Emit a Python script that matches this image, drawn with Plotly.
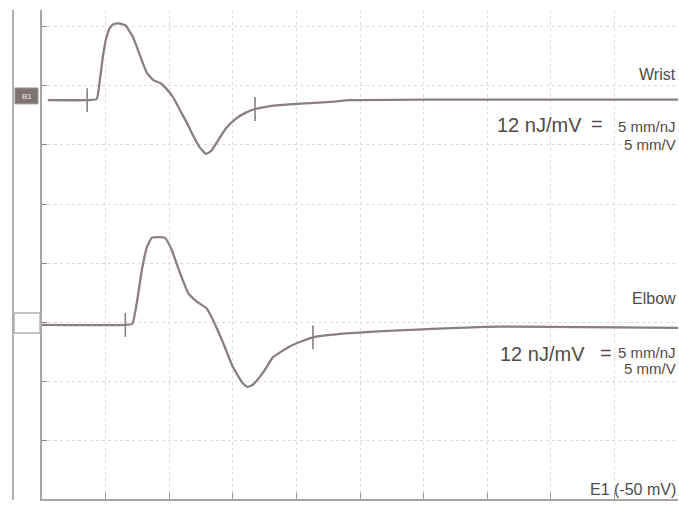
import plotly.graph_objects as go

# Time in ms (1 ms per division), amplitude in mV (1 mV per division)
wrist_t = [0.09, 0.71, 0.86, 0.91, 0.96, 1.01, 1.07, 1.13, 1.20, 1.31, 1.43, 1.54, 1.65, 1.75,
           1.86, 1.95, 2.06, 2.17, 2.28, 2.39, 2.48, 2.58, 2.66, 2.77, 2.89, 3.04, 3.19,
           3.35, 3.59, 4.06, 4.53, 4.84, 6.00, 8.00, 10.0]
wrist_a = [0.00, 0.00, 0.02, 0.34, 0.76, 1.05, 1.23, 1.29, 1.30, 1.27, 1.07, 0.76, 0.46, 0.34,
           0.29, 0.20, 0.05, -0.17, -0.39, -0.63, -0.80, -0.91, -0.86, -0.68, -0.48, -0.32,
           -0.22, -0.15, -0.10, -0.06, -0.03, 0.00, 0.01, 0.01, 0.01]

elbow_t = [0.00, 1.31, 1.42, 1.49, 1.57, 1.65, 1.73, 1.93, 2.04, 2.17, 2.30, 2.44, 2.59,
           2.69, 2.85, 3.00, 3.15, 3.23, 3.32, 3.48, 3.63, 3.90, 4.26, 4.84, 5.90, 7.20, 10.0]
elbow_a = [0.00, 0.00, 0.02, 0.37, 0.93, 1.32, 1.48, 1.48, 1.27, 0.88, 0.54, 0.39, 0.28,
           0.08, -0.31, -0.71, -0.98, -1.05, -1.01, -0.80, -0.55, -0.36, -0.21, -0.14,
           -0.08, -0.03, -0.05]

wrist_marker_t = [0.71, 3.35]
wrist_marker_a = [0.00, -0.15]
elbow_marker_t = [1.31, 4.26]
elbow_marker_a = [0.00, -0.21]

trace_names = ["Wrist", "Elbow"]
gain_label = "12 nJ/mV"
scale_top = "5 mm/nJ"
scale_bottom = "5 mm/V"
footer_label = "E1 (-50 mV)"
channel_label = "B1"

WRIST_BASE = 6.76
ELBOW_BASE = 2.95

TRACE_COLOR = "#8a7f7f"
TEXT_COLOR = "#524a4a"
FONT = "Liberation Sans, Arial, sans-serif"

fig = go.Figure()
for t, a, base in [(wrist_t, wrist_a, WRIST_BASE), (elbow_t, elbow_a, ELBOW_BASE)]:
    fig.add_trace(go.Scatter(x=t, y=[v + base for v in a], mode="lines",
                             line=dict(color=TRACE_COLOR, width=2.3, shape="spline", smoothing=0.4),
                             hoverinfo="skip", showlegend=False))
for t, a, base in [(wrist_marker_t, wrist_marker_a, WRIST_BASE), (elbow_marker_t, elbow_marker_a, ELBOW_BASE)]:
    fig.add_trace(go.Scatter(x=t, y=[v + base for v in a], mode="markers",
                             marker=dict(symbol="line-ns", size=17, line=dict(color=TRACE_COLOR, width=1.6)),
                             hoverinfo="skip", showlegend=False))

ann = []
def txt(x, y, s, size, anchor="right", xref="x", yref="y", color=TEXT_COLOR):
    ann.append(dict(x=x, y=y, xref=xref, yref=yref, text=s, showarrow=False,
                    xanchor=anchor, yanchor="middle", font=dict(size=size, color=color, family=FONT)))

txt(10.0, 7.20, trace_names[0], 16)
txt(7.12, 6.34, gain_label, 20, "left")
txt(8.73, 6.35, "=", 20, "center")
txt(10.0, 6.31, scale_top, 15)
txt(10.0, 6.01, scale_bottom, 15)

txt(10.0, 3.39, trace_names[1], 16)
txt(7.17, 2.46, gain_label, 20, "left")
txt(8.87, 2.47, "=", 20, "center")
txt(10.0, 2.49, scale_top, 15)
txt(10.0, 2.21, scale_bottom, 15)

txt(10.0, 0.16, footer_label, 16)
txt(-0.024, 0.824, channel_label, 8, "center", "paper", "paper", "#eeeaea")

shapes = [
    dict(type="line", xref="paper", yref="paper", x0=-0.0456, x1=-0.0456, y0=1.0, y1=-0.002,
         line=dict(color="#b5b0b0", width=2)),
    dict(type="rect", xref="paper", yref="paper", x0=-0.0425, x1=-0.0063, y0=0.808, y1=0.8405,
         fillcolor="#7d7373", line=dict(color="#9a9090", width=1)),
    dict(type="rect", xref="paper", yref="paper", x0=-0.044, x1=-0.003, y0=0.3395, y1=0.3804,
         line=dict(color="#b5b0b0", width=1.5)),
]
fig.update_layout(
    width=679, height=506,
    margin=dict(l=42, r=1, t=10, b=7),
    paper_bgcolor="white", plot_bgcolor="white",
    annotations=ann, shapes=shapes,
    xaxis=dict(range=[0, 10], dtick=1, tick0=0, showgrid=True, gridcolor="#dedada",
               griddash="dot", gridwidth=1, showline=True, linecolor="#a9a3a3", linewidth=2,
               ticks="inside", ticklen=6, tickcolor="#9a9494", showticklabels=False, zeroline=False,
               fixedrange=True),
    yaxis=dict(range=[0, 8.288], dtick=1, tick0=0, showgrid=True, gridcolor="#dedada",
               griddash="dot", gridwidth=1, showline=True, linecolor="#a9a3a3", linewidth=2,
               ticks="inside", ticklen=5, tickcolor="#8a8484", showticklabels=False, zeroline=False,
               fixedrange=True),
)
fig.write_html("out.html")
